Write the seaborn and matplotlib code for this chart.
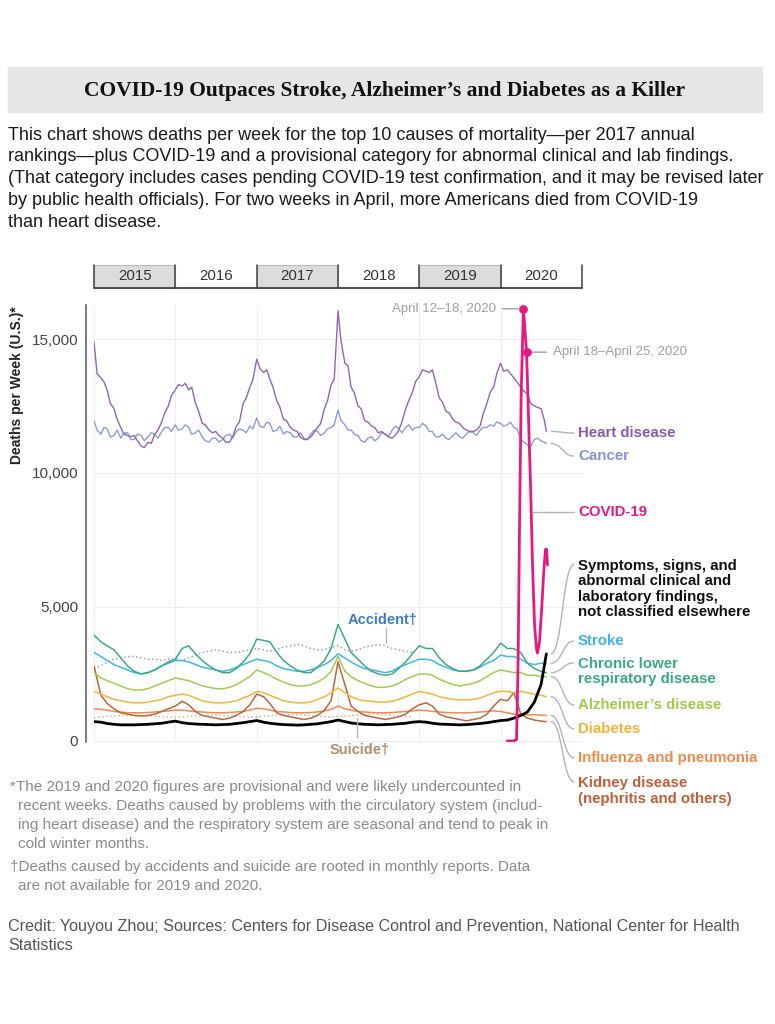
import pandas as pd
import seaborn as sns
import matplotlib.pyplot as plt
import matplotlib.dates as mdates
from matplotlib.patches import Rectangle, PathPatch
from matplotlib.path import Path

# monthly readings, Jan 2015 .. Jul 2020, plus the last week shown
month_starts = pd.date_range('2015-01-01', '2020-07-01', freq='MS')
months = list(month_starts) + [pd.Timestamp('2020-07-25')]
months_monthly_only = pd.date_range('2015-01-01', '2018-12-01', freq='MS')
# heart disease and cancer read twice a month (1st and 15th)
half_months = sorted(list(month_starts) + list(month_starts + pd.Timedelta(days=14)))
half_months = half_months + [pd.Timestamp('2020-07-25')]

heart = [14900, 13700, 13550, 13400, 13100, 12600, 12400, 12000, 11700, 11450, 11400, 11350,
         11400, 11200, 11000, 10950, 11150, 11100, 11450, 11600, 11900, 12250, 12500, 12900,
         13100, 13300, 13250, 13350, 13100, 13200, 12600, 12300, 11850, 11800, 11600, 11500,
         11550, 11400, 11300, 11150, 11150, 11350, 11750, 11900, 12600, 12800, 13200, 13500,
         14250, 13900, 13750, 13850, 13500, 13200, 12700, 12450, 12000, 11950, 11700, 11600,
         11550, 11350, 11250, 11250, 11350, 11500, 11700, 11850, 12400, 12700, 13300, 13500,
         16050, 14900, 14100, 14000, 13200, 13000, 12500, 12400, 11950, 11900, 11750, 11700,
         11500, 11550, 11450, 11350, 11300, 11400, 11600, 11900, 12400, 12700, 13000, 13400,
         13600, 13850, 13800, 13750, 13850, 13400, 12800, 12650, 12300, 12250, 12000, 11900,
         11850, 11700, 11600, 11550, 11550, 11600, 11750, 12200, 12600, 13000, 13200, 13700,
         14100, 13800, 13850, 13700, 13550, 13400, 13200, 13050, 12950, 12600, 12500, 12450,
         12400, 12000, 11550]
cancer = [11950, 11600, 11450, 11700, 11650, 11350, 11400, 11600, 11300, 11500, 11500, 11250,
          11250, 11450, 11400, 11200, 11350, 11500, 11450, 11300, 11550, 11700, 11700, 11550,
          11800, 11600, 11650, 11800, 11700, 11450, 11500, 11600, 11350, 11200, 11150, 11300,
          11300, 11150, 11250, 11400, 11450, 11300, 11550, 11650, 11600, 11500, 11750, 11650,
          12050, 11750, 11700, 11900, 11850, 11550, 11600, 11750, 11450, 11550, 11500, 11350,
          11350, 11500, 11300, 11250, 11450, 11600, 11550, 11400, 11500, 11650, 11700, 11800,
          12350, 11950, 11800, 11600, 11600, 11450, 11400, 11200, 11150, 11300, 11350, 11200,
          11300, 11500, 11450, 11350, 11600, 11750, 11650, 11500, 11700, 11800, 11600, 11700,
          11700, 11850, 11750, 11550, 11550, 11350, 11350, 11450, 11300, 11250, 11400, 11500,
          11350, 11300, 11450, 11550, 11500, 11400, 11600, 11700, 11700, 11800, 11750, 11900,
          11850, 11750, 11800, 11900, 11700, 11650, 11250, 11150, 11050, 11000, 11250, 11300,
          11200, 11150, 11100]
clrd = [3950, 3700, 3550, 3400, 3100, 2800, 2600, 2500, 2550, 2650, 2800, 2950,
        3050, 3450, 3550, 3250, 3000, 2800, 2650, 2550, 2550, 2700, 2950, 3250,
        3800, 3750, 3700, 3300, 3000, 2800, 2650, 2550, 2550, 2750, 3000, 3450,
        4350, 3800, 3300, 3050, 2800, 2600, 2500, 2450, 2500, 2700, 2950, 3250,
        3550, 3450, 3450, 3100, 2850, 2700, 2600, 2600, 2650, 2800, 3050, 3300,
        3650, 3450, 3450, 3300, 2900, 2700, 2600, 2550]
stroke = [3300, 3150, 3000, 2850, 2750, 2650, 2550, 2500, 2550, 2650, 2800, 2900,
          3000, 3000, 2950, 2850, 2750, 2700, 2650, 2600, 2650, 2750, 2850, 2950,
          3050, 3000, 2950, 2800, 2700, 2650, 2600, 2600, 2650, 2750, 2850, 3000,
          3250, 3100, 2950, 2800, 2700, 2650, 2600, 2550, 2600, 2750, 2850, 2950,
          3050, 3050, 3000, 2850, 2750, 2650, 2600, 2600, 2650, 2750, 2900, 3000,
          3200, 3150, 3150, 3050, 2900, 2850, 2900, 2900]
alzheimers = [2550, 2350, 2250, 2150, 2050, 1950, 1900, 1900, 1950, 2050, 2150, 2250,
              2350, 2300, 2250, 2150, 2050, 2000, 1950, 1950, 2000, 2100, 2250, 2400,
              2650, 2550, 2450, 2300, 2200, 2100, 2050, 2050, 2100, 2200, 2350, 2600,
              3150, 2600, 2400, 2250, 2150, 2050, 2000, 2000, 2050, 2150, 2300, 2400,
              2500, 2500, 2450, 2300, 2200, 2100, 2050, 2100, 2150, 2250, 2400, 2550,
              2650, 2600, 2550, 2550, 2450, 2450, 2400, 2400]
diabetes = [1850, 1750, 1650, 1550, 1500, 1450, 1420, 1420, 1450, 1500, 1550, 1650,
            1700, 1750, 1700, 1600, 1500, 1450, 1420, 1420, 1450, 1500, 1600, 1700,
            1850, 1800, 1700, 1600, 1500, 1450, 1420, 1420, 1450, 1550, 1650, 1800,
            1980, 1800, 1650, 1550, 1500, 1480, 1450, 1450, 1480, 1550, 1650, 1750,
            1850, 1800, 1750, 1650, 1600, 1550, 1530, 1530, 1550, 1600, 1700, 1800,
            1850, 1850, 1800, 1850, 1800, 1750, 1700, 1650]
kidney = [2800, 1700, 1400, 1200, 1050, 1000, 950, 930, 950, 1000, 1100, 1200,
          1300, 1480, 1350, 1100, 950, 900, 850, 800, 850, 950, 1100, 1350,
          1750, 1650, 1400, 1050, 950, 900, 850, 800, 850, 950, 1150, 1500,
          2950, 2100, 1300, 1100, 950, 900, 850, 800, 850, 900, 1000, 1200,
          1350, 1420, 1300, 1000, 900, 850, 800, 750, 800, 850, 1000, 1300,
          1550, 1500, 1800, 1000, 850, 780, 740, 720]
influenza = [1200, 1180, 1150, 1100, 1080, 1050, 1050, 1050, 1060, 1080, 1100, 1120,
             1150, 1150, 1120, 1100, 1080, 1060, 1050, 1050, 1060, 1080, 1100, 1150,
             1220, 1200, 1150, 1100, 1080, 1060, 1050, 1050, 1060, 1080, 1120, 1180,
             1300, 1200, 1150, 1100, 1080, 1060, 1050, 1050, 1060, 1080, 1100, 1120,
             1150, 1130, 1100, 1080, 1060, 1050, 1050, 1050, 1060, 1080, 1100, 1120,
             1100, 1050, 1000, 980, 970, 980, 960, 950]
symptoms = [720, 700, 650, 620, 600, 600, 600, 610, 620, 640, 660, 700,
            740, 680, 650, 630, 620, 610, 600, 610, 620, 650, 680, 720,
            760, 700, 660, 630, 610, 600, 590, 600, 620, 640, 680, 720,
            780, 720, 670, 640, 620, 610, 600, 610, 620, 640, 660, 700,
            720, 700, 660, 630, 620, 610, 600, 610, 630, 650, 680, 720,
            760, 780, 850, 950, 1080, 1450, 2100, 3250]
accident = [2700, 2800, 2950, 3050, 3100, 3150, 3150, 3100, 3050, 3050, 3000, 3050,
            3050, 3000, 3100, 3200, 3300, 3350, 3400, 3350, 3300, 3300, 3350, 3400,
            3450, 3400, 3350, 3400, 3500, 3550, 3600, 3550, 3450, 3400, 3400, 3500,
            3550, 3400, 3350, 3400, 3500, 3550, 3600, 3550, 3450, 3400, 3350, 3300]
suicide = [850, 900, 920, 930, 950, 950, 960, 950, 930, 920, 900, 880,
           880, 900, 920, 940, 950, 960, 960, 950, 930, 920, 900, 890,
           900, 920, 940, 960, 970, 980, 980, 960, 940, 930, 910, 900,
           920, 930, 950, 970, 990, 1000, 1000, 980, 960, 940, 920, 900]

covid_dates = pd.to_datetime(['2020-02-01', '2020-02-28', '2020-03-13', '2020-03-20', '2020-03-27',
                              '2020-04-03', '2020-04-13', '2020-04-27', '2020-05-06', '2020-05-15',
                              '2020-05-24', '2020-06-02', '2020-06-11', '2020-06-15', '2020-06-24',
                              '2020-07-03', '2020-07-13', '2020-07-21', '2020-07-26', '2020-07-30'])
covid = [0, 0, 50, 3000, 8500, 13000, 16130, 14510, 12000, 9500,
         6500, 4300, 3400, 3280, 3700, 4800, 6300, 7150, 7150, 6570]
covid_marked = [6, 7]

years = [2015, 2016, 2017, 2018, 2019, 2020]

sns.set_theme(style='white')
plt.rcParams['font.family'] = ['Liberation Sans', 'DejaVu Sans']

fig = plt.figure(figsize=(7.75, 10.24), dpi=100)
ax = fig.add_axes([94 / 775, 1 - 742 / 1024, 488 / 775, 437 / 1024])

# title band and intro text
fig.patches.append(Rectangle((8 / 775, 1 - 112 / 1024), 754 / 775, 45 / 1024,
                             transform=fig.transFigure, color='#e6e6e6', zorder=0))
fig.text(385 / 775, 1 - 91 / 1024, 'COVID-19 Outpaces Stroke, Alzheimer\u2019s and Diabetes as a Killer',
         ha='center', va='center', fontsize=15.5, fontweight='bold',
         family=['Liberation Serif', 'DejaVu Serif'], color='#111')
intro = ['This chart shows deaths per week for the top 10 causes of mortality\u2014per 2017 annual',
         'rankings\u2014plus COVID-19 and a provisional category for abnormal clinical and lab findings.',
         '(That category includes cases pending COVID-19 test confirmation, and it may be revised later',
         'by public health officials). For two weeks in April, more Americans died from COVID-19',
         'than heart disease.']
for i, line in enumerate(intro):
    fig.text(8 / 775, 1 - (135 + 21.8 * i) / 1024, line, ha='left', va='center',
             fontsize=13, color='#1a1a1a')

series = [
    (months_monthly_only, accident, '#9a9cd2', 1.1, ':'),
    (months_monthly_only, suicide, '#cfb79c', 1.1, ':'),
    (half_months, cancer, '#8e9bd3', 1.0, '-'),
    (half_months, heart, '#9266ad', 1.0, '-'),
    (months, influenza, '#ee8b50', 1.1, '-'),
    (months, kidney, '#b8673f', 1.1, '-'),
    (months, diabetes, '#f5b53c', 1.1, '-'),
    (months, alzheimers, '#a2cb52', 1.1, '-'),
    (months, stroke, '#3fb8e4', 1.1, '-'),
    (months, clrd, '#3aab82', 1.1, '-'),
    (months, symptoms, '#000000', 2.0, '-'),
]
for d, v, c, lw, ls in series:
    sns.lineplot(x=d, y=v, ax=ax, color=c, linewidth=lw, linestyle=ls)
sns.lineplot(x=covid_dates, y=covid, ax=ax, color='#e5197f', linewidth=2.0, sort=False)
ax.scatter(covid_dates[covid_marked], [covid[i] for i in covid_marked], s=28,
           color='#e5197f', zorder=5)

ax.set_xlim(pd.Timestamp('2015-01-01'), pd.Timestamp('2021-01-01'))
ax.set_ylim(-40, 16270)
ax.set_xticks([pd.Timestamp(f'{y}-01-01') for y in years + [2021]])
ax.set_xticklabels([])
ax.tick_params(axis='x', length=0)
ax.set_yticks([0, 5000, 10000, 15000])
ax.set_yticklabels(['0', '5,000', '10,000', '15,000'])
ax.tick_params(axis='y', length=4.5, width=1, color='#555', labelsize=11, labelcolor='#444', pad=1)
ax.grid(True, color='#eeeeee', linewidth=0.8)
for s in ['top', 'right', 'bottom']:
    ax.spines[s].set_visible(False)
ax.spines['left'].set_position(('outward', 6))
ax.spines['left'].set_color('#555')
ax.spines['left'].set_linewidth(1.1)
ax.set_xlabel('')
ax.set_ylabel('')

fig.text(17 / 775, 1 - 385 / 1024, 'Deaths per Week (U.S.)*', rotation=90, ha='center', va='center',
         fontsize=10, fontweight='bold', color='#222')

# year boxes above the plot
tr = ax.get_xaxis_transform()
y0, y1 = (742 - 288) / 437, (742 - 265) / 437
for i, yr in enumerate(years):
    a = mdates.date2num(pd.Timestamp(f'{yr}-01-01'))
    b = mdates.date2num(pd.Timestamp(f'{yr + 1}-01-01'))
    if i % 2 == 0:
        ax.add_patch(Rectangle((a, y0), b - a, y1 - y0, transform=tr, facecolor='#dcdcdc',
                               edgecolor='#bbbbbb', lw=0.8, clip_on=False))
    ax.plot([a, a], [y0, y1], transform=tr, color='#444', lw=1.1, clip_on=False)
    ax.text((a + b) / 2, (y0 + y1) / 2, str(yr), transform=tr, ha='center', va='center',
            fontsize=10.8, color='#333')
end = mdates.date2num(pd.Timestamp('2021-01-01'))
start = mdates.date2num(pd.Timestamp('2015-01-01'))
ax.plot([end, end], [y0, y1], transform=tr, color='#444', lw=1.1, clip_on=False)
ax.plot([start, end], [y0, y0], transform=tr, color='#444', lw=1.3, clip_on=False)

# peak annotations
grey = '#a0a0a0'
ax.annotate('April 12\u201318, 2020', xy=(covid_dates[6], covid[6]), xytext=(-27, 0),
            textcoords='offset pixels', ha='right', va='center', fontsize=9.5, color=grey,
            arrowprops=dict(arrowstyle='-', color=grey, lw=1, shrinkA=2, shrinkB=4))
ax.annotate('April 18\u2013April 25, 2020', xy=(covid_dates[7], covid[7]), xytext=(26, 0),
            textcoords='offset pixels', ha='left', va='center', fontsize=9.5, color=grey,
            arrowprops=dict(arrowstyle='-', color=grey, lw=1, shrinkA=2, shrinkB=4))


def leader(x0, ya, x1, yb):
    a, b = mdates.date2num(x0), mdates.date2num(x1)
    m = (a + b) / 2
    path = Path([(a, ya), (m, ya), (m, yb), (b, yb)],
                [Path.MOVETO, Path.CURVE4, Path.CURVE4, Path.CURVE4])
    ax.add_patch(PathPatch(path, fc='none', ec='#b4b4b4', lw=1, clip_on=False))


label_x = pd.Timestamp('2020-12-14')
lead_a = pd.Timestamp('2020-08-14')
lead_b = pd.Timestamp('2020-11-27')
labels = [
    ('Heart disease', '#8a5aa6', 11490, 11490, heart[-1]),
    ('Cancer', '#8793cc', 10630, 10630, cancer[-1]),
    ('Symptoms, signs, and\nabnormal clinical and\nlaboratory findings,\nnot classified elsewhere',
     '#111111', 5670, 6600, symptoms[-1]),
    ('Stroke', '#3ab4e6', 3730, 3730, stroke[-1]),
    ('Chronic lower\nrespiratory disease', '#3aa880', 2590, 2910, clrd[-1]),
    ('Alzheimer\u2019s disease', '#a3c94c', 1340, 1340, alzheimers[-1]),
    ('Diabetes', '#f4b23a', 450, 450, diabetes[-1]),
    ('Influenza and pneumonia', '#f08a48', -630, -630, influenza[-1]),
    ('Kidney disease\n(nephritis and others)', '#bf5f38', -1870, -1530, kidney[-1]),
]
for text, c, ty, ly, endv in labels:
    ax.text(label_x, ty, text, ha='left', va='center', fontsize=10.8, fontweight='bold',
            color=c, linespacing=1.15, clip_on=False)
    leader(lead_a, endv, lead_b, ly)

ax.text(label_x, 8540, 'COVID-19', ha='left', va='center', fontsize=10.8, fontweight='bold',
        color='#e5197f', clip_on=False)
ax.plot([pd.Timestamp('2020-05-24'), lead_b], [8540, 8540], color='#b4b4b4', lw=1, clip_on=False)

# accident / suicide callouts
ax.text(pd.Timestamp('2018-07-22'), 4515, 'Accident\u2020', ha='center', va='center',
        fontsize=10.5, fontweight='bold', color='#3e7cc4')
ax.plot([pd.Timestamp('2018-08-03')] * 2, [4230, 3650], color='#b4b4b4', lw=1)
ax.text(pd.Timestamp('2018-04-10'), -330, 'Suicide\u2020', ha='center', va='center',
        fontsize=10.5, fontweight='bold', color='#b08e6a', clip_on=False)
ax.plot([pd.Timestamp('2018-03-28')] * 2, [870, 150], color='#b4b4b4', lw=1)

# footnotes
notes = [(10, 787, '*The 2019 and 2020 figures are provisional and were likely undercounted in'),
         (18, 806, 'recent weeks. Deaths caused by problems with the circulatory system (includ-'),
         (18, 825, 'ing heart disease) and the respiratory system are seasonal and tend to peak in'),
         (18, 844, 'cold winter months.'),
         (10, 867, '\u2020Deaths caused by accidents and suicide are rooted in monthly reports. Data'),
         (18, 886, 'are not available for 2019 and 2020.')]
for x, y, t in notes:
    fig.text(x / 775, 1 - y / 1024, t, ha='left', va='center', fontsize=11, color='#8a8a8a')
fig.text(8 / 775, 1 - 927 / 1024,
         'Credit: Youyou Zhou; Sources: Centers for Disease Control and Prevention, National Center for Health',
         ha='left', va='center', fontsize=11.6, color='#555')
fig.text(8 / 775, 1 - 945 / 1024, 'Statistics', ha='left', va='center', fontsize=11.6, color='#555')

fig.savefig('out.png', dpi=100)
